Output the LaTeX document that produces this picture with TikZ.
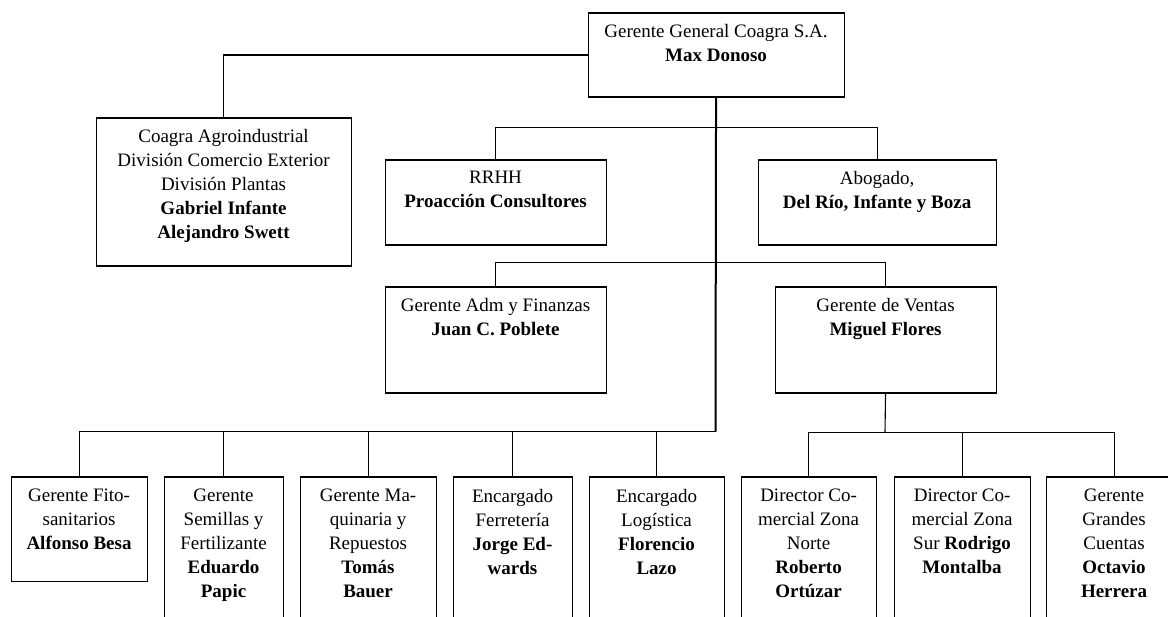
\documentclass[tikz,border=0pt]{standalone}
\usepackage{fontspec}
\setmainfont{Liberation Serif}
\begin{document}
\begin{tikzpicture}[x=1pt,y=-1pt,
  box/.style={draw, line width=1.1pt, inner sep=0pt, anchor=north west},
  txt/.style={anchor=north, inner sep=0pt, align=center, font=\fontsize{19}{24}\selectfont, execute at begin node=\strut},
  conn/.style={line width=1.1pt},
  mainline/.style={line width=2pt}]
\useasboundingbox (0,0) rectangle (1168,617);
\clip (0,0) rectangle (1168,617);
\fill[white] (0,0) rectangle (1168,617);

% boxes
\node[box, minimum width=256pt, minimum height=84pt] (gg) at (587.5,12.5) {};
\node[box, minimum width=255pt, minimum height=148pt] (coagra) at (95.5,117.5) {};
\node[box, minimum width=221pt, minimum height=85pt] (rrhh) at (384.5,159.5) {};
\node[box, minimum width=238pt, minimum height=85pt] (abog) at (757.5,159.5) {};
\node[box, minimum width=221pt, minimum height=106pt] (adm) at (384.5,286.5) {};
\node[box, minimum width=221pt, minimum height=106pt] (ventas) at (774.5,286.5) {};
\node[box, minimum width=136pt, minimum height=104pt] (fito) at (10.5,476.5) {};
\node[box, minimum width=119pt, minimum height=180pt] (sem) at (163.5,476.5) {};
\node[box, minimum width=136pt, minimum height=180pt] (maq) at (299.5,476.5) {};
\node[box, minimum width=119pt, minimum height=180pt] (ferr) at (452.5,476.5) {};
\node[box, minimum width=135pt, minimum height=180pt] (log) at (588.5,476.5) {};
\node[box, minimum width=135pt, minimum height=180pt] (norte) at (740.5,476.5) {};
\node[box, minimum width=136pt, minimum height=180pt] (sur) at (893.5,476.5) {};
\node[box, minimum width=136pt, minimum height=180pt] (grandes) at (1045.5,476.5) {};

% texts
\node[txt] (ggt) at ([yshift=-11.2pt]gg.north) {Gerente General Coagra S.A.\\\textbf{Max Donoso}};
\node[txt] (coagrat) at ([yshift=-12pt]coagra.north) {Coagra Agroindustrial\\División Comercio Exterior\\División Plantas\\\textbf{Gabriel Infante}\\\textbf{Alejandro Swett}};
\node[txt] (rrhht) at ([yshift=-11.6pt]rrhh.north) {RRHH\\\textbf{Proacción Consultores}};
\node[txt] (abogt) at ([yshift=-11.6pt]abog.north) {Abogado,\\\textbf{Del Río, Infante y Boza}};
\node[txt] (admt) at ([yshift=-11.6pt]adm.north) {Gerente Adm y Finanzas\\\textbf{Juan C. Poblete}};
\node[txt] (ventast) at ([yshift=-11.6pt]ventas.north) {Gerente de Ventas\\\textbf{Miguel Flores}};
\node[txt] (fitot) at ([yshift=-12.5pt]fito.north) {Gerente Fito-\\sanitarios\\\textbf{Alfonso Besa}};
\node[txt] (semt) at ([yshift=-12.5pt]sem.north) {Gerente\\Semillas y\\Fertilizante\\\textbf{Eduardo}\\\textbf{Papic}};
\node[txt] (maqt) at ([yshift=-12.5pt]maq.north) {Gerente Ma-\\quinaria y\\Repuestos\\\textbf{Tomás}\\\textbf{Bauer}};
\node[txt] (ferrt) at ([yshift=-12.5pt]ferr.north) {Encargado\\Ferretería\\\textbf{Jorge Ed-}\\\textbf{wards}};
\node[txt] (logt) at ([yshift=-12.5pt]log.north) {Encargado\\Logística\\\textbf{Florencio}\\\textbf{Lazo}};
\node[txt] (nortet) at ([yshift=-12.5pt]norte.north) {Director Co-\\mercial Zona\\Norte\\\textbf{Roberto}\\\textbf{Ortúzar}};
\node[txt] (surt) at ([yshift=-12.5pt]sur.north) {Director Co-\\mercial Zona\\Sur \textbf{Rodrigo}\\\textbf{Montalba}};
\node[txt] (grandest) at ([yshift=-12.5pt]grandes.north) {Gerente\\Grandes\\Cuentas\\\textbf{Octavio}\\\textbf{Herrera}};

% junctions
\coordinate (j0) at (715.5,431.5);
\coordinate (j1) at (715.5,127.5);
\coordinate (j2) at (715.5,262.5);
\coordinate (j3) at (885,432.5);

% connectors
\draw[conn] (gg.west) -| (coagra.north);
\draw[conn] (rrhh.north) |- (j1) -| (abog.north);
\draw[conn] (adm.north) |- (j2) -| (ventas.north);
\draw[conn] (fito.north) |- (j0);
\draw[conn] (sem.north) -- (sem.north |- j0);
\draw[conn] (maq.north) -- (maq.north |- j0);
\draw[conn] (ferr.north) -- (ferr.north |- j0);
\draw[conn] (log.north) -- (log.north |- j0);
\draw[conn] (ventas.south) -- (j3);
\draw[conn] (norte.north) |- (j3) -| (grandes.north);
\draw[conn] (sur.north) -- (sur.north |- j3);
\draw[mainline] (gg.south) -- (j0);
\end{tikzpicture}
\end{document}
